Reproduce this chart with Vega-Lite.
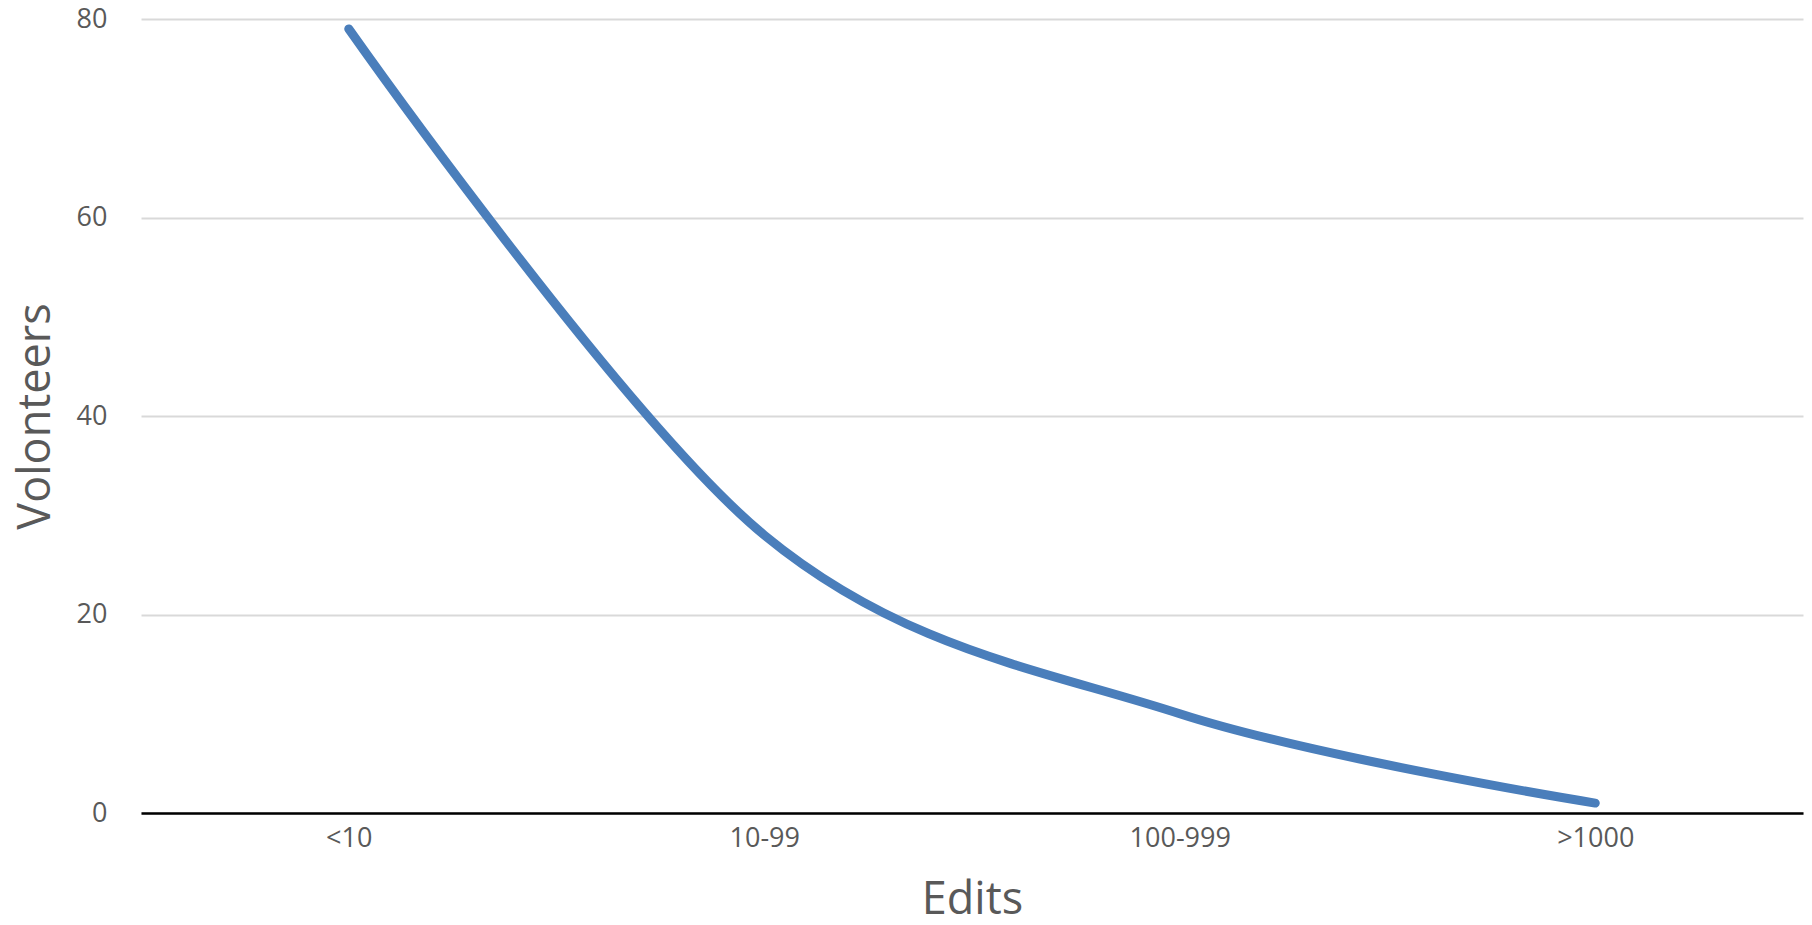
{
  "$schema": "https://vega.github.io/schema/vega-lite/v6.json",
  "autosize": {"type": "none"},
  "width": 1662,
  "height": 794,
  "padding": {"left": 141, "top": 19, "right": 9, "bottom": 112},
  "background": "white",
  "config": {"view": {"stroke": null}, "font": "Open Sans"},
  "data": {"values": [
    {"Edits": "<10", "Volonteers": 79},
    {"Edits": "10-99", "Volonteers": 28},
    {"Edits": "100-999", "Volonteers": 10},
    {"Edits": ">1000", "Volonteers": 1}
  ]},
  "mark": {"type": "line", "interpolate": "cardinal", "color": "#4a7ebb", "strokeWidth": 9, "strokeCap": "round", "strokeJoin": "round"},
  "encoding": {
    "x": {
      "field": "Edits", "type": "ordinal", "sort": null,
      "scale": {"type": "point", "padding": 0.5},
      "axis": {
        "title": "Edits", "titleFont": "Open Sans", "titleFontSize": 45, "titleFontWeight": "normal", "titleColor": "#595959",
        "titleBaseline": "alphabetic", "titleX": 831, "titleY": 100, "titleAnchor": "middle", "titleAlign": "center",
        "labelAngle": 0, "labelFontSize": 27, "labelColor": "#595959", "labelPadding": 12,
        "ticks": false, "tickSize": 0, "grid": false,
        "domainColor": "#000000", "domainWidth": 2.5
      }
    },
    "y": {
      "field": "Volonteers", "type": "quantitative",
      "scale": {"domain": [0, 80], "nice": false},
      "axis": {
        "title": "Volonteers", "titleFont": "Open Sans", "titleFontSize": 45, "titleFontWeight": "normal", "titleColor": "#595959",
        "titleAngle": -90, "titleBaseline": "alphabetic", "titleX": -92, "titleY": 397, "titleAlign": "center",
        "values": [0, 20, 40, 60, 80],
        "labelFontSize": 27, "labelColor": "#595959", "labelPadding": 34,
        "ticks": false, "tickSize": 0, "domain": false,
        "grid": true, "gridColor": "#d9d9d9", "gridWidth": 2
      }
    }
  }
}
